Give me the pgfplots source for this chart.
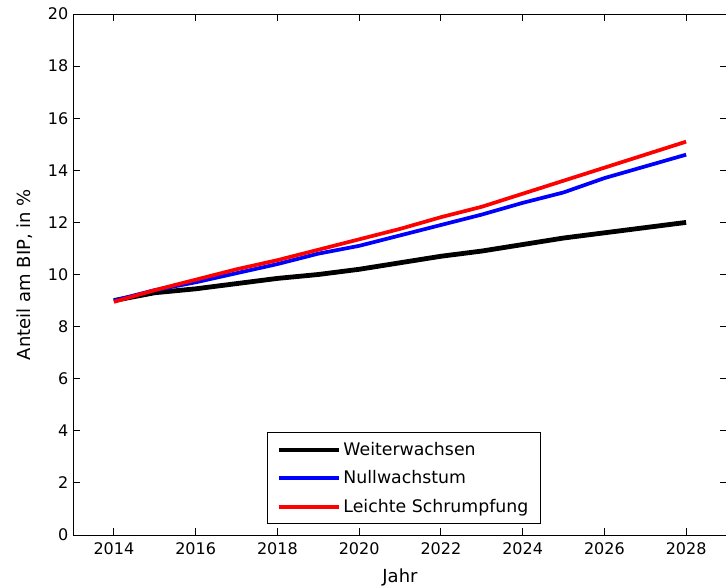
\documentclass[border=0pt]{standalone}
\usepackage{pgfplots}
\pgfplotsset{compat=1.18}
\usepackage{fontspec}
\setmainfont{DejaVu Sans}
\begin{document}
\begin{tikzpicture}
\useasboundingbox (0pt,0pt) rectangle (544.5pt,440.25pt);
\begin{axis}[
  at={(54.75pt,39pt)}, anchor=south west,
  scale only axis, width=490.5pt, height=390.75pt,
  xmin=2013, xmax=2029, ymin=0, ymax=20,
  xtick={2014,2016,...,2028}, ytick={0,2,...,20},
  tick align=inside, major tick length=5pt,
  axis line style={line width=0.75pt},
  every tick/.style={line width=0.75pt, black},
  /pgf/number format/1000 sep={},
  /pgf/number format/assume math mode=true,
  font=\fontsize{12}{14}\selectfont,
  ticklabel style={font=\fontsize{12}{14}\selectfont},
  xticklabel style={yshift=-2pt},
  xlabel={Jahr}, ylabel={Anteil am BIP, in \%},
  xlabel style={font=\fontsize{13.5}{16}\selectfont, yshift=-4pt},
  ylabel style={font=\fontsize{13.5}{16}\selectfont, yshift=5pt},
  legend style={at={(0.506,0.021)}, anchor=south, draw=black, line width=0.75pt,
    font=\fontsize{13}{15}\selectfont, inner xsep=7pt, inner ysep=5pt,
    row sep=6pt, cells={anchor=west}},
  legend cell align=left,
  legend image code/.code={\draw[#1, line width=3pt] (0pt,0pt) -- (45pt,0pt);},
]
\addplot[black, line width=3.6pt] coordinates {
(2014,9.0) (2015,9.3) (2016,9.45) (2017,9.65) (2018,9.85) (2019,10.0) (2020,10.2)
(2021,10.45) (2022,10.7) (2023,10.9) (2024,11.15) (2025,11.4) (2026,11.6) (2027,11.8) (2028,12.0)};
\addlegendentry{Weiterwachsen}
\addplot[blue, line width=2.8pt] coordinates {
(2014,9.0) (2015,9.4) (2016,9.7) (2017,10.05) (2018,10.4) (2019,10.8) (2020,11.1)
(2021,11.5) (2022,11.9) (2023,12.3) (2024,12.75) (2025,13.15) (2026,13.7) (2027,14.15) (2028,14.6)};
\addlegendentry{Nullwachstum}
\addplot[red, line width=2.8pt] coordinates {
(2014,8.95) (2015,9.4) (2016,9.8) (2017,10.2) (2018,10.55) (2019,10.95) (2020,11.35)
(2021,11.75) (2022,12.2) (2023,12.6) (2024,13.1) (2025,13.6) (2026,14.1) (2027,14.6) (2028,15.1)};
\addlegendentry{Leichte Schrumpfung}
\end{axis}
\end{tikzpicture}
\end{document}
